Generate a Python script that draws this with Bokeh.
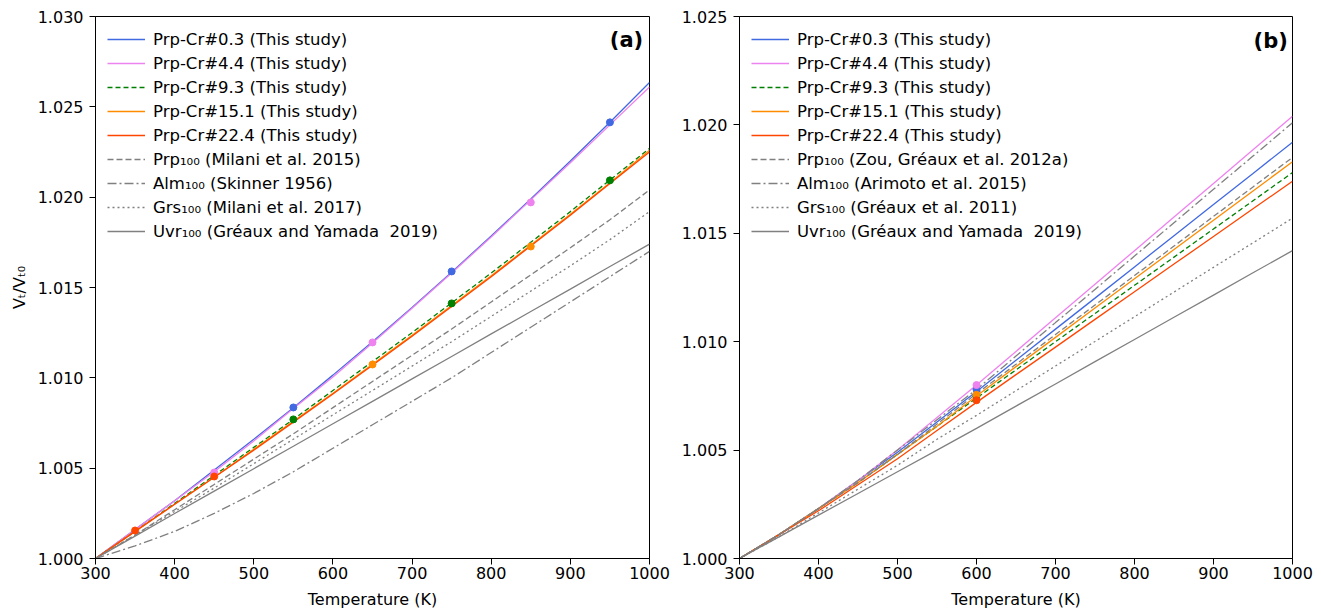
from bokeh.plotting import figure
from bokeh.layouts import row
from bokeh.models import Range1d, Legend, LegendItem, Label, NumeralTickFormatter, FixedTicker
from bokeh.embed import file_html
from bokeh.resources import INLINE

# ---------------- Panel (a) data ----------------
T_a = [300, 350, 400, 450, 500, 550, 600, 650, 700, 750, 800, 850, 900, 950, 1000]
a_cr03 = [1.0000, 1.0016, 1.0032, 1.0049, 1.0066, 1.00835, 1.01015, 1.0120, 1.0139, 1.01585, 1.01785, 1.0199, 1.0220, 1.02415, 1.02635]
a_cr44 = [1.0000, 1.0016, 1.0032, 1.0048, 1.0065, 1.0083, 1.01005, 1.01193, 1.01385, 1.0158, 1.0178, 1.01985, 1.0219, 1.0240, 1.0261]
a_cr93 = [1.0000, 1.0015, 1.00305, 1.0046, 1.00615, 1.0077, 1.0093, 1.0109, 1.0125, 1.01415, 1.0158, 1.0175, 1.0192, 1.02095, 1.0227]
a_cr151 = [1.0000, 1.0015, 1.0030, 1.0045, 1.00605, 1.0076, 1.00915, 1.01075, 1.01235, 1.0140, 1.01565, 1.01735, 1.01905, 1.0208, 1.0226]
a_cr224 = [1.0000, 1.0015, 1.0030, 1.0045, 1.0060, 1.00755, 1.0091, 1.0107, 1.0123, 1.01395, 1.0156, 1.0173, 1.0190, 1.02075, 1.0225]
a_prp = [1.0000, 1.0013, 1.0027, 1.0041, 1.0055, 1.0069, 1.00835, 1.0098, 1.01125, 1.0127, 1.0142, 1.0157, 1.0172, 1.01875, 1.0204]
a_alm = [1.0000, 1.0007, 1.0015, 1.0025, 1.0036, 1.0048, 1.0061, 1.0074, 1.0087, 1.0100, 1.0114, 1.0128, 1.0142, 1.0156, 1.0170]
a_grs = [1.0000, 1.0013, 1.0026, 1.0039, 1.00525, 1.0066, 1.00795, 1.0093, 1.01065, 1.0120, 1.0134, 1.0148, 1.0162, 1.01765, 1.0192]
a_uvr = [1.0000, 1.00124, 1.00249, 1.00373, 1.00497, 1.00621, 1.00746, 1.0087, 1.00994, 1.01118, 1.01243, 1.01367, 1.01491, 1.01616, 1.0174]

# measured points (a)
pa_cr03_T = [550, 750, 950]
pa_cr03_V = [1.00836, 1.01589, 1.02414]
pa_cr44_T = [450, 650, 850]
pa_cr44_V = [1.00476, 1.01196, 1.01971]
pa_cr93_T = [550, 750, 950]
pa_cr93_V = [1.00770, 1.01412, 1.02093]
pa_cr151_T = [650, 850]
pa_cr151_V = [1.01074, 1.01727]
pa_cr224_T = [350, 450]
pa_cr224_V = [1.00155, 1.00454]

# ---------------- Panel (b) data ----------------
T_b = [300, 350, 400, 450, 500, 550, 600, 650, 700, 750, 800, 850, 900, 950, 1000]
b_cr03 = [1.0000, 1.0011, 1.0023, 1.0036, 1.0049, 1.0063, 1.0077, 1.00914, 1.01058, 1.01201, 1.01345, 1.01489, 1.01633, 1.01776, 1.0192]
b_cr44 = [1.0000, 1.0011, 1.0023, 1.0036, 1.0050, 1.0065, 1.0080, 1.00955, 1.0111, 1.01265, 1.0142, 1.01575, 1.0173, 1.01885, 1.0204]
b_cr93 = [1.0000, 1.0011, 1.0023, 1.0035, 1.0048, 1.0061, 1.0074, 1.0087, 1.0100, 1.0113, 1.0126, 1.0139, 1.0152, 1.0165, 1.0178]
b_cr151 = [1.0000, 1.0011, 1.0023, 1.0035, 1.0048, 1.0061, 1.0075, 1.00885, 1.0102, 1.01155, 1.0129, 1.01425, 1.0156, 1.01695, 1.0183]
b_cr224 = [1.0000, 1.0011, 1.0022, 1.0034, 1.0046, 1.0059, 1.0072, 1.00848, 1.00975, 1.01103, 1.0123, 1.01358, 1.01485, 1.01613, 1.0174]
b_prp = [1.0000, 1.0011, 1.0023, 1.0035, 1.0048, 1.0062, 1.0076, 1.00896, 1.01033, 1.01169, 1.01305, 1.01441, 1.01578, 1.01714, 1.0185]
b_alm = [1.0000, 1.0011, 1.0023, 1.0036, 1.0050, 1.0064, 1.0078, 1.00934, 1.01088, 1.01241, 1.01395, 1.01549, 1.01703, 1.01856, 1.0201]
b_grs = [1.0000, 1.0010, 1.0021, 1.0032, 1.0043, 1.0055, 1.0066, 1.00774, 1.00888, 1.01001, 1.01115, 1.01229, 1.01343, 1.01456, 1.0157]
b_uvr = [1.0000, 1.0010, 1.0020, 1.0030, 1.0040, 1.0050, 1.0060, 1.00703, 1.00805, 1.00908, 1.0101, 1.01113, 1.01215, 1.01318, 1.0142]

# measured points (b), all at 600 K
pb_T = [600]
pb_cr03_V = [1.0078]
pb_cr44_V = [1.0080]
pb_cr93_V = [1.0075]
pb_cr151_V = [1.00755]
pb_cr224_V = [1.0073]

x_ticks = [300, 400, 500, 600, 700, 800, 900, 1000]
y_ticks_a = [1.000, 1.005, 1.010, 1.015, 1.020, 1.025, 1.030]
y_ticks_b = [1.000, 1.005, 1.010, 1.015, 1.020, 1.025]

labels_this = ["Prp-Cr#0.3 (This study)", "Prp-Cr#4.4 (This study)", "Prp-Cr#9.3 (This study)",
               "Prp-Cr#15.1 (This study)", "Prp-Cr#22.4 (This study)"]
labels_ref_a = ["Prp\u2081\u2080\u2080 (Milani et al. 2015)", "Alm\u2081\u2080\u2080 (Skinner 1956)",
                "Grs\u2081\u2080\u2080 (Milani et al. 2017)", "Uvr\u2081\u2080\u2080 (Gréaux and Yamada  2019)"]
labels_ref_b = ["Prp\u2081\u2080\u2080 (Zou, Gréaux et al. 2012a)", "Alm\u2081\u2080\u2080 (Arimoto et al. 2015)",
                "Grs\u2081\u2080\u2080 (Gréaux et al. 2011)", "Uvr\u2081\u2080\u2080 (Gréaux and Yamada  2019)"]

C_BLUE = "#4169E1"
C_PINK = "#EE82EE"
C_GREEN = "#008000"
C_ORANGE = "#FF8C00"
C_RED = "#FF4500"
C_GRAY = "#808080"
FONT = "DejaVu Sans"


def make_panel(T, series, refs, pts, ylo, yhi, yticks, width, bl, br, tag, tag_x, tag_y, ref_labels, ylabel):
    p = figure(width=width, height=611, output_backend="svg", toolbar_location=None,
               x_range=Range1d(300, 1000), y_range=Range1d(ylo, yhi),
               min_border_left=bl, min_border_right=br, min_border_top=16, min_border_bottom=53)
    p.grid.visible = False
    p.background_fill_color = "white"
    p.border_fill_color = "white"
    p.outline_line_color = "black"
    p.outline_line_width = 1
    p.outline_line_alpha = 1
    p.xaxis.ticker = FixedTicker(ticks=x_ticks)
    p.yaxis.ticker = FixedTicker(ticks=yticks)
    p.yaxis.formatter = NumeralTickFormatter(format="0.000")
    for ax in p.axis:
        ax.major_tick_in = 0
        ax.minor_tick_out = 0
        ax.minor_tick_in = 0
        ax.axis_line_color = "black"
        ax.major_tick_line_color = "black"
        ax.major_label_text_font = FONT
        ax.major_label_text_font_size = "16px"
        ax.major_label_text_color = "black"
        ax.axis_label_text_font = FONT
        ax.axis_label_text_font_size = "16px"
        ax.axis_label_text_font_style = "normal"
        ax.axis_label_text_color = "black"
    p.xaxis.major_tick_out = 6
    p.xaxis.major_label_standoff = 2
    p.yaxis.major_tick_out = 6
    p.yaxis.major_label_standoff = 6
    p.xaxis.axis_label = "Temperature (K)"
    p.xaxis.axis_label_standoff = 8
    if ylabel:
        p.yaxis.axis_label = ylabel
        p.yaxis.axis_label_standoff = 6

    colors = [C_BLUE, C_PINK, C_GREEN, C_ORANGE, C_RED]
    dashes = ["solid", "solid", "5 3", "solid", "solid"]
    items = []
    rends = []
    for vals, c, d in zip(series, colors, dashes):
        r = p.line(T, vals, line_color=c, line_width=1.3, line_dash=d)
        rends.append(r)
    ref_dashes = ["6 3", "9 3 2 3", "2 3", "solid"]
    for vals, d in zip(refs, ref_dashes):
        r = p.line(T, vals, line_color=C_GRAY, line_width=1.3, line_dash=d)
        rends.append(r)
    for (px, py), c in zip(pts, colors):
        p.scatter(px, py, marker="circle", size=7, fill_color=c, line_color=c)

    for r, lab in zip(rends, labels_this + ref_labels):
        items.append(LegendItem(label=lab, renderers=[r]))
    leg = Legend(items=items, location="top_left")
    leg.label_text_font = FONT
    leg.label_text_font_size = "16.5px"
    leg.label_text_color = "black"
    leg.glyph_width = 38
    leg.glyph_height = 22
    leg.label_height = 22
    leg.spacing = 2
    leg.padding = 8
    leg.margin = 4
    leg.label_standoff = 8
    leg.border_line_alpha = 0
    leg.background_fill_alpha = 0
    p.add_layout(leg)

    p.add_layout(Label(x=tag_x, y=tag_y, text=tag, text_align="right", text_baseline="middle",
                       text_font=FONT, text_font_size="21px", text_font_style="bold", text_color="black"))
    return p


pa = make_panel(T_a, [a_cr03, a_cr44, a_cr93, a_cr151, a_cr224], [a_prp, a_alm, a_grs, a_uvr],
                [(pa_cr03_T, pa_cr03_V), (pa_cr44_T, pa_cr44_V), (pa_cr93_T, pa_cr93_V),
                 (pa_cr151_T, pa_cr151_V), (pa_cr224_T, pa_cr224_V)],
                1.000, 1.030, y_ticks_a, 672, 95, 23, "(a)", 992, 1.0287, labels_ref_a,
                "V\u209c/V\u209c\u2080")

pb = make_panel(T_b, [b_cr03, b_cr44, b_cr93, b_cr151, b_cr224], [b_prp, b_alm, b_grs, b_uvr],
                [(pb_T, pb_cr03_V), (pb_T, pb_cr44_V), (pb_T, pb_cr93_V),
                 (pb_T, pb_cr151_V), (pb_T, pb_cr224_V)],
                1.000, 1.025, y_ticks_b, 649, 67, 29, "(b)", 994, 1.02389, labels_ref_b, None)

layout = row(pa, pb)
open("out.html", "w").write(file_html(layout, INLINE))
